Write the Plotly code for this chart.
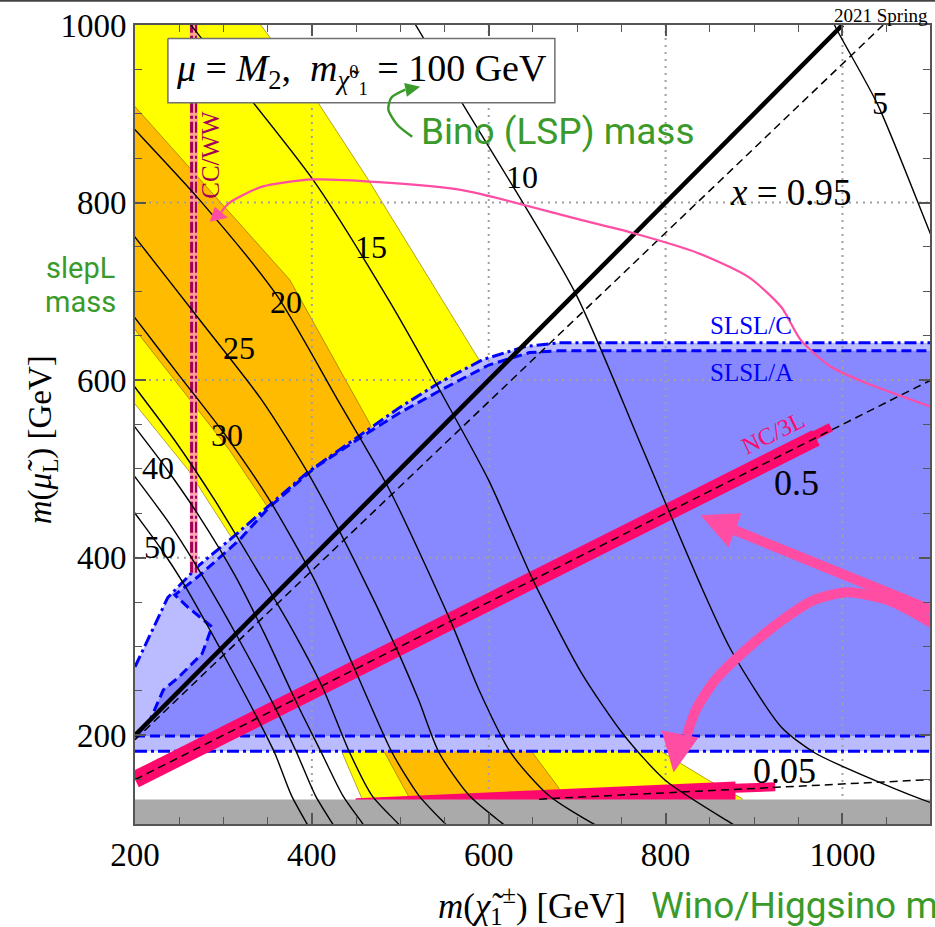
import plotly.graph_objects as go

# ---------------- axes ----------------
x_ticks = [200, 400, 600, 800, 1000]
y_ticks = [200, 400, 600, 800, 1000]
x_range = [200, 1099]
y_range = [100, 1000]

# ---------------- g-2 contours ----------------
c5_x = [984, 992, 1040, 1099, 1130]
c5_y = [1017, 998, 910, 766, 690]
c10_x = [507, 518, 570, 698, 770, 837, 874, 931, 969, 1044, 1100, 1130]
c10_y = [1017, 999, 912, 698, 532, 375, 296, 209, 180, 146, 124, 115]
c15_x = [250, 264, 401, 487, 555, 600, 650, 705, 753, 800, 874, 916]
c15_y = [1017, 999, 826, 690, 570, 487, 375, 270, 200, 149, 101, 76]
c20_x = [183, 200, 273, 360, 429, 488, 558, 589, 625, 668, 717, 747]
c20_y = [900, 882, 803, 696, 578, 476, 326, 251, 180, 132, 101, 87]
c25_x = [183, 200, 273, 343, 397, 448, 496, 521, 544, 578, 615, 634]
c25_y = [783, 761, 668, 578, 493, 397, 297, 239, 180, 132, 101, 87]
c30_x = [183, 200, 251, 303, 352, 403, 450, 491, 521, 550, 564]
c30_y = [693, 670, 604, 537, 465, 375, 271, 180, 132, 101, 87]
c35_x = [183, 200, 245, 290, 335, 375, 412, 443, 468, 497, 510]
c35_y = [615, 592, 532, 465, 391, 324, 254, 180, 132, 101, 87]
c40_x = [183, 200, 235, 273, 313, 347, 383, 411, 435, 457, 467]
c40_y = [570, 547, 501, 446, 380, 313, 236, 180, 132, 101, 87]
c45_x = [183, 200, 240, 279, 318, 360, 383, 404, 423, 432]
c45_y = [513, 491, 437, 375, 307, 228, 180, 132, 101, 87]
c50_x = [183, 200, 228, 256, 285, 313, 338, 358, 377, 394, 402]
c50_y = [473, 450, 412, 369, 318, 267, 220, 180, 132, 101, 87]

contour_label_text = ["5", "10", "15", "20", "25", "30", "40", "50"]
contour_label_x = [1042, 638, 467, 371, 318, 304, 226, 228]
contour_label_y = [912, 829, 750, 688, 636, 538, 501, 412]

# ---------------- g-2 bands ----------------
yellow_x = [183, 334, 343, 406, 463, 533, 589, 679, 770, 796, 849, 886, 905, 470, 456, 434, 386, 309, 260, 200, 183]
yellow_y = [1012, 1012, 999, 914, 827, 713, 623, 442, 239, 181, 149, 129, 100, 100, 130, 181, 262, 423, 499, 574, 594]
orange_x = [183, 200, 279, 375, 465, 555, 649, 679, 691, 521, 510, 482, 420, 350, 307, 249, 200, 183]
orange_y = [927, 908, 820, 713, 552, 352, 181, 141, 100, 100, 130, 181, 262, 457, 521, 595, 657, 677]

# ---------------- slepton exclusions ----------------
slslC_x = [200, 200, 217, 237, 273, 313, 352, 395, 459, 499, 544, 593, 642, 679, 1105, 1105]
slslC_y = [182, 277, 313, 355, 392, 425, 459, 496, 541, 569, 597, 623, 638, 642, 642, 182]
slslA_x = [200, 202, 217, 232, 249, 276, 287, 260, 245, 273, 318, 352, 403, 459, 499, 550, 600, 646, 679, 1105, 1105]
slslA_y = [199, 200, 217, 251, 265, 292, 322, 344, 358, 380, 420, 457, 501, 538, 563, 591, 617, 631, 633, 633, 199]

gray_y = [100, 127.5]

# ---------------- lines x = const ----------------
diag_x = [200, 1000]
diag_y = [200, 1000]
x095_x = [200, 1046]
x095_y = [195, 1000]
x05_x = [200, 1100]
x05_y = [150, 600]
x005_x = [657, 1100]
x005_y = [128, 150]

nc3l_x = [200, 970]
nc3l_y = [150, 535]
nc3l_ext_x = [955, 987]
nc3l_ext_y = [531, 547]
nc3l_low_x = [442, 450, 879, 879]
nc3l_low_y = [115, 129, 148, 115]
nc3l_low_ext_x = [870, 924]
nc3l_low_ext_y = [140, 142]

ccww_x = [264, 269]
ccww_y = [383, 1000]

# ---------------- annotation arrows ----------------
pink_curve_x = [1114, 1100, 1026, 987, 953, 931, 894, 837, 762, 702, 570, 476, 401, 344, 307, 297]
pink_curve_y = [565, 570, 597, 615, 645, 682, 716, 743, 766, 781, 814, 823, 826, 818, 800, 789]
pink_curve_head_x = [284.6, 290.2, 304.9]
pink_curve_head_y = [778.3, 795.2, 782.8]

arrow1_x = [1114, 1100, 878]
arrow1_y = [335, 341, 431]
arrow1_head_x = [839.5, 885.7, 871.1]
arrow1_head_y = [447.8, 450.1, 411.8]

arrow2_x = [1114, 1100, 1052, 1006, 967, 931, 894, 856, 834, 824]
arrow2_y = [318, 327, 352, 361, 352, 329, 299, 262, 228, 200]
arrow2_head_x = [809, 795.5, 837.2]
arrow2_head_y = [158, 205.4, 197.5]

green_x = [513.5, 496.6, 486.5, 489.8, 505.6]
green_y = [874.1, 887.7, 904.6, 918.1, 927.1]
green_head_x = [522.5, 507.5, 504.4]
green_head_y = [930.5, 919.3, 934.8]

box_x = [237.2, 674.8, 674.8, 237.2]
box_y = [984.7, 984.7, 912.5, 912.5]

SERIF = "Liberation Serif"
SANS = "Roboto"
GREEN = "#3a9a2a"
PINK = "#ff4da3"
DEEP = "#ff0a6c"
BLUE = "#0000ff"

fig = go.Figure()


def poly(xs, ys, fill, lc="rgba(0,0,0,0)", lw=0):
    fig.add_trace(go.Scatter(x=list(xs) + [xs[0]], y=list(ys) + [ys[0]], mode="lines",
                             fill="toself", fillcolor=fill,
                             line=dict(color=lc, width=lw), hoverinfo="skip", showlegend=False))


def line(xs, ys, color, width, dash="solid", spline=False):
    ln = dict(color=color, width=width, dash=dash)
    if spline:
        ln["shape"] = "spline"
        ln["smoothing"] = 0.7
    fig.add_trace(go.Scatter(x=xs, y=ys, mode="lines", line=ln, hoverinfo="skip", showlegend=False))


# bands
poly(yellow_x, yellow_y, "#ffff00", "rgba(150,125,0,0.7)", 1)
poly(orange_x, orange_y, "#ffbb00", "rgba(150,110,0,0.7)", 1)
# slepton regions
poly(slslC_x, slslC_y, "#bbbbff")
poly(slslA_x, slslA_y, "#8888ff")

# grid
gx, gy = [], []
for v in x_ticks[1:]:
    gx += [v, v, None]
    gy += [y_range[0], y_range[1], None]
for v in y_ticks[:-1]:
    gx += [x_range[0], x_range[1] + 5, None]
    gy += [v, v, None]
line(gx, gy, "#a0a0a0", 2, dash="2px,5px")

# slepton outlines
line(slslC_x[1:-1], slslC_y[1:-1], BLUE, 3, dash="12px,4px,3px,4px")
line([slslC_x[0], slslC_x[-1]], [slslC_y[0], slslC_y[-1]], BLUE, 3, dash="12px,4px,3px,4px")
line(slslA_x[1:-1], slslA_y[1:-1], BLUE, 3, dash="10px,5px")
line([slslA_x[0], slslA_x[-1]], [slslA_y[0], slslA_y[-1]], BLUE, 3, dash="10px,5px")

# NC/3L bands
line(nc3l_x, nc3l_y, DEEP, 17)
line(nc3l_ext_x, nc3l_ext_y, DEEP, 9)
poly(nc3l_low_x, nc3l_low_y, DEEP)
line(nc3l_low_ext_x, nc3l_low_ext_y, DEEP, 9)

# gray band
poly([x_range[0], x_range[1] + 5, x_range[1] + 5, x_range[0]], [gray_y[0], gray_y[0], gray_y[1], gray_y[1]], "#aaaaaa")

# CC/WW
line([(ccww_x[0] + ccww_x[1]) / 2] * 2, ccww_y, "rgba(255,150,170,0.85)", 8)
line([ccww_x[0]] * 2, ccww_y, "#a3005c", 3, dash="11px,3px,3px,3px")
line([ccww_x[1]] * 2, ccww_y, "#a3005c", 2, dash="11px,3px,3px,3px")

# contours
for cx, cy in [(c5_x, c5_y), (c10_x, c10_y), (c15_x, c15_y), (c20_x, c20_y), (c25_x, c25_y),
               (c30_x, c30_y), (c35_x, c35_y), (c40_x, c40_y), (c45_x, c45_y), (c50_x, c50_y)]:
    line(cx, cy, "black", 1.4, spline=True)

# x lines
line(x095_x, x095_y, "black", 1.5, dash="8px,5px")
line(x05_x, x05_y, "black", 1.5, dash="8px,5px")
line(x005_x, x005_y, "black", 1.5, dash="8px,5px")
line(diag_x, diag_y, "black", 4.5)

# pink arrows
line(pink_curve_x, pink_curve_y, PINK, 2.2, spline=True)
poly(pink_curve_head_x, pink_curve_head_y, PINK)
line(arrow1_x, arrow1_y, PINK, 10)
poly(arrow1_head_x, arrow1_head_y, PINK)
line(arrow2_x, arrow2_y, PINK, 10, spline=True)
poly(arrow2_head_x, arrow2_head_y, PINK)

# legend box and green arrow
poly(box_x, box_y, "white", "#707070", 1.5)
line(green_x, green_y, GREEN, 2.5, spline=True)
poly(green_head_x, green_head_y, GREEN)

ann = []


def txt(x, y, t, size, color="black", family=SERIF, angle=0, xref="x", yref="y", xanchor="center"):
    ann.append(dict(x=x, y=y, xref=xref, yref=yref, text=t, showarrow=False, textangle=angle,
                    xanchor=xanchor, yanchor="middle", font=dict(family=family, size=size, color=color)))


for t, x, y in zip(contour_label_text, contour_label_x, contour_label_y):
    txt(x, y, t, 32)

txt(942, 811, "<i>x</i> = 0.95", 37)
txt(948, 484, "0.5", 36)
txt(935, 160, "0.05", 36)
txt(897, 662, "SLSL/C", 25, BLUE)
txt(897, 609, "SLSL/A", 25, BLUE)
txt(922, 540, "NC/3L", 24, DEEP, angle=-26)
txt(285, 854, "CC/WW", 25, "#a3005c", angle=-90)
txt(456, 946, "<i>μ</i> = <i>M</i><sub>2</sub>,  <i>m</i><sub><i>χ̃</i><sup>0</sup><sub>1</sub></sub> = 100 GeV", 38)
txt(678, 880, "Bino (LSP) mass", 37, GREEN, SANS)

# outside texts (paper coords)
txt(1.0, 1.0125, "2021 Spring", 19, xref="paper", yref="paper", xanchor="right")
txt(-0.1167, 0.4806, "<i>m</i>(<i>μ̃</i><sub>L</sub>) [GeV]", 33, angle=-90, xref="paper", yref="paper")
txt(-0.069, 0.696, "slepL", 29, GREEN, SANS, xref="paper", yref="paper")
txt(-0.069, 0.653, "mass", 29, GREEN, SANS, xref="paper", yref="paper")
txt(0.4994, -0.1014, "<i>m</i>(<i>χ̃</i><sub>1</sub><sup>±</sup>) [GeV]", 35, xref="paper", yref="paper")
txt(0.6462, -0.1014, "Wino/Higgsino mass", 37, GREEN, SANS, xref="paper", yref="paper", xanchor="left")

axis_common = dict(ticks="inside", ticklen=11, tickwidth=1.5, tickcolor="#555",
                   showline=True, linecolor="#555", linewidth=2, mirror="ticks",
                   showgrid=False, zeroline=False, layer="above traces",
                   tickfont=dict(family=SERIF, size=33, color="black"),
                   minor=dict(dtick=50, ticks="inside", ticklen=7, tickwidth=1.2, tickcolor="#555", showgrid=False))

fig.update_layout(
    width=935, height=927,
    margin=dict(l=135, r=3, t=25, b=103),
    paper_bgcolor="white", plot_bgcolor="white",
    showlegend=False,
    xaxis=dict(range=x_range, tickvals=x_ticks, **axis_common),
    yaxis=dict(range=y_range, tickvals=y_ticks, **axis_common),
    annotations=ann,
    shapes=[dict(type="line", xref="paper", yref="paper", x0=-0.2, x1=1.1, y0=1.0305, y1=1.0305,
                 line=dict(color="#444", width=2))],
)

fig.write_html("out.html")
